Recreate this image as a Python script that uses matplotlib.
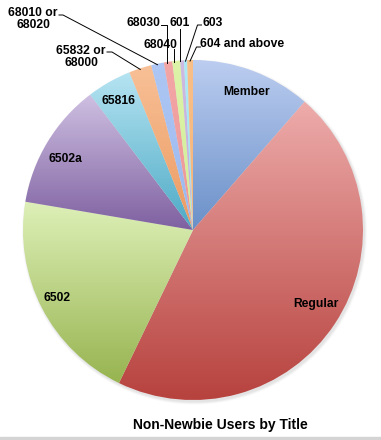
import numpy as np
import matplotlib
matplotlib.use("Agg")
import matplotlib.pyplot as plt
from matplotlib.colors import LinearSegmentedColormap
from matplotlib.patches import Circle

plt.rcParams['font.family'] = ['Liberation Sans', 'DejaVu Sans']

# Données (part des utilisateurs, en %)
titres = ["Member", "Regular", "6502", "6502a", "65816", "65832 or\n68000",
          "68010 or\n68020", "68030", "68040", "601", "603", "604 and above"]
parts = [11.4, 45.8, 20.5, 12.0, 4.25, 2.15, 1.2, 0.8, 0.75, 0.35, 0.3, 0.55]

# dégradés (haut clair -> bas foncé)
couleurs = [("#bccdf0", "#6a90c8"), ("#edacab", "#b7423e"), ("#def0b8", "#97b450"),
            ("#cfc0e2", "#7e60a0"), ("#b6e4f2", "#4ca9c5"), ("#f8c097", "#eb9a60"),
            ("#aec7f4", "#9ab8ee"), ("#f3a6a6", "#ee9696"), ("#dcf3a8", "#d2ee98"),
            ("#cdbbe2", "#c2addb"), ("#ace9f6", "#9ee2f2"), ("#f9bf88", "#f5b478")]

H = 440
fig = plt.figure(figsize=(3.81, 4.40), dpi=100)
ax = fig.add_axes([0, 0, 1, 1])

cx, cy, R = 193, H - 230, 170

# ombre légère
for k, a in enumerate([0.05, 0.07, 0.09]):
    ax.add_patch(Circle((cx + 1.5, cy - 2), R + 2.5 - k, color="#808080", alpha=a, lw=0, zorder=0))

wedges, _ = ax.pie(parts, center=(cx, cy), radius=R, startangle=90,
                   counterclock=False, frame=True)

grad = np.linspace(0, 1, 256)[:, None]
for w, (c0, c1) in zip(wedges, couleurs):
    w.set_facecolor("none")
    w.set_edgecolor("none")
    bb = w.get_path().get_extents()
    cmap = LinearSegmentedColormap.from_list("g", [c0, c1])
    im = ax.imshow(grad, cmap=cmap, extent=(bb.x0, bb.x1, bb.y0, bb.y1),
                   aspect="auto", origin="upper", zorder=2, interpolation="bilinear")
    im.set_clip_path(w)

# étiquettes internes
internes = {0: (246.5, 92), 1: (316, 304), 2: (57.5, 298), 3: (65, 159), 4: (118, 101)}
for i, (x, y) in internes.items():
    ax.text(x, H - y, titres[i], ha="center", va="center", fontsize=8.7,
            fontweight="bold", zorder=5)

# point d'attache sur le bord du camembert
def bord(i):
    w = wedges[i]
    th = np.deg2rad((w.theta1 + w.theta2) / 2)
    return cx + R * np.cos(th), cy + R * np.sin(th)

# étiquettes externes : (position du texte, coude de la ligne)
externes = {
    5: ((81, 57), [(107, 52), (112, 52)]),
    6: ((33, 19), [(59, 15), (63, 15)]),
    7: ((143, 23), [(161, 25), (166.5, 25)]),
    8: ((160, 45), [(174.3, 49)]),
    9: ((180, 23), [(180.3, 29)]),
    10: ((213, 23), [(201.5, 25), (197.5, 25)]),
    11: ((241.7, 44), [(200.5, 47), (196.5, 47)]),
}
for i, ((x, y), coude) in externes.items():
    ax.text(x, H - y, titres[i], ha="center", va="center", fontsize=8.7,
            fontweight="bold", linespacing=1.1, zorder=5)
    px, py = bord(i)
    xs = [p[0] for p in coude]
    ys = [H - p[1] for p in coude]
    if i in (7, 8, 9):
        px = xs[-1]
    ax.plot(xs + [px], ys + [py - 1], color="black", lw=0.7, zorder=4)

ax.text(220, H - 425, "Non-Newbie Users by Title", ha="center", va="center",
        fontsize=10, fontweight="bold")

# bande grise du tableur en bas
ax.axhspan(0, 3, color="#d4d4d4", zorder=1)

ax.set_xlim(0, 381)
ax.set_ylim(0, H)
ax.axis("off")

fig.savefig("out.png", dpi=100)
